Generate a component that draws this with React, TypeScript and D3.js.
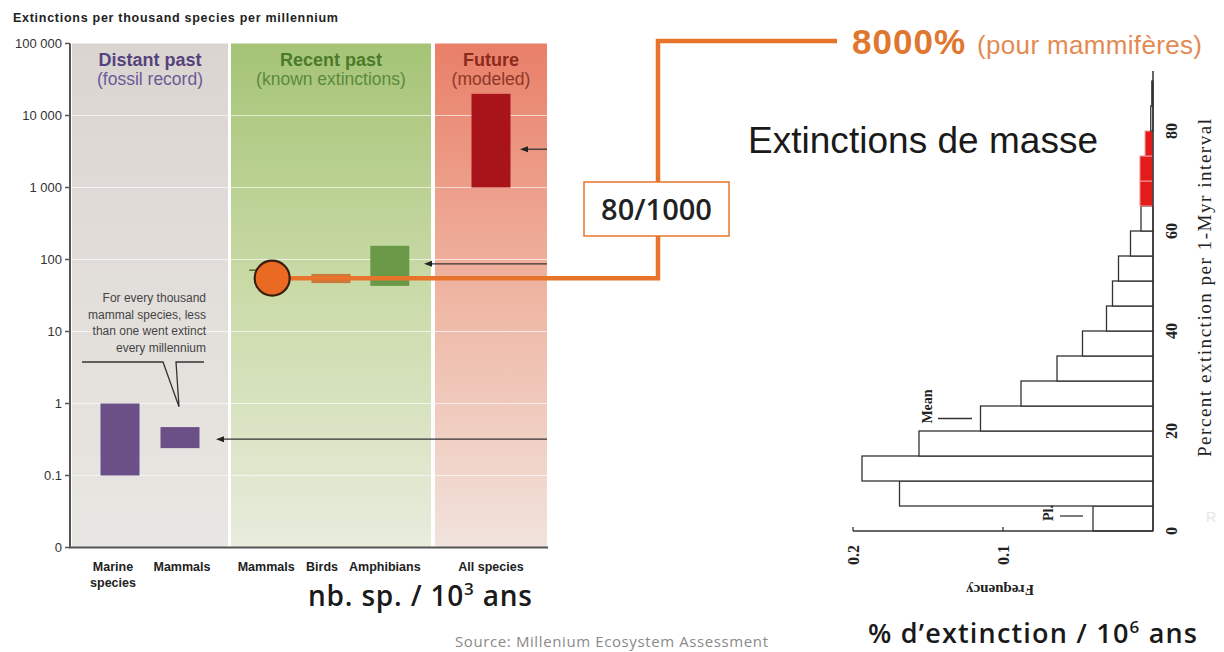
import React from 'react';
import * as d3 from 'd3';

// ---------- DATA ----------
const periods = ['Distant past', 'Recent past', 'Future'];
const periodNotes = ['(fossil record)', '(known extinctions)', '(modeled)'];
const categories = ['Marine species', 'Mammals', 'Mammals', 'Birds', 'Amphibians', 'All species'];
const categoryPeriod = [0, 0, 1, 1, 1, 2];
const rateLow = [0.1, 0.24, 55, 47, 43, 1000];
const rateHigh = [1, 0.47, 55, 63, 155, 20000];
const markKind = ['bar', 'bar', 'dot', 'bar', 'bar', 'bar'];
const yTicks = [0.01, 0.1, 1, 10, 100, 1000, 10000, 100000];
const yTickLabels = ['0', '0.1', '1', '10', '100', '1 000', '10 000', '100 000'];
const arrowRates = [3400, 87, 0.32];
const calloutLines = ['For every thousand', 'mammal species, less', 'than one went extinct', 'every millennium'];

const binStarts = [0, 5, 10, 15, 20, 25, 30, 35, 40, 45, 50, 55, 60, 65, 70, 75, 80, 85];
const binFreq = [0.040, 0.169, 0.194, 0.156, 0.115, 0.088, 0.064, 0.047, 0.031, 0.027, 0.023, 0.015, 0.008, 0.0087, 0.0087, 0.0053, 0.0015, 0.0008];
const massBins = [65, 70, 75];
const pctTicks = [0, 20, 40, 60, 80];
const freqTicks = [0.2, 0.1];
const meanPct = 22.5;
const plPct = 3;

// ---------- LAYOUT ----------
const W = 1224, H = 652;
const panelX: [number, number][] = [[72, 228], [231, 431], [435, 547]];
const panelPadding = [0.8, 0.7, 0.5];
const labelNudge = [-7, 2, -6, -9, -5, 0];
const arrowTipX = [520, 424, 216];
const barW = 39;
const orange = '#e8742c';

const gradStops = [
  [['0', '#dbd5d2'], ['1', '#e9e7e3']],
  [['0', '#a5c476'], ['0.5', '#cbdba9'], ['1', '#e8ecdd']],
  [['0', '#e97f68'], ['0.5', '#efb6a3'], ['1', '#f1e3dd']],
];
const titleColors = [['#55427c', '#6b5b97'], ['#4b7a2b', '#5b8a3c'], ['#8b2a1c', '#8e3728']];
const markColors = ['#6b5087', '#6b5087', '#ea6a24', '#c97a3b', '#6a9a48', '#a8141a'];

export default function App() {
  const y = d3.scaleLog().domain([0.01, 100000]).range([547.5, 43.5]);
  const pointScales = periods.map((p, i) =>
    d3.scalePoint<number>()
      .domain(categories.map((_, j) => j).filter((j) => categoryPeriod[j] === i))
      .range(panelX[i])
      .padding(panelPadding[i])
  );
  const cx = (j: number) => pointScales[categoryPeriod[j]](j) as number;

  const py = d3.scaleLinear().domain([0, 80]).range([531, 131]);
  const fx = d3.scaleLinear().domain([0, 0.2]).range([1153, 853]);

  const dotIdx = markKind.indexOf('dot');
  const dotX = cx(dotIdx);
  const dotY = y(rateLow[dotIdx]);

  const sans = 'Liberation Sans, Arial, sans-serif';
  const serif = 'Liberation Serif, DejaVu Serif, serif';
  const calibri = 'Open Sans, sans-serif';

  return (
    <svg width={W} height={H} style={{ position: 'absolute', left: 0, top: 0, background: '#fff' }}>
      <defs>
        {gradStops.map((stops, i) => (
          <linearGradient key={i} id={`pg${i}`} x1="0" y1="0" x2="0" y2="1">
            {stops.map(([o, c]) => <stop key={o} offset={o} stopColor={c} />)}
          </linearGradient>
        ))}
      </defs>

      {/* title */}
      <text x={13} y={22} fontFamily={sans} fontWeight="bold" fontSize={12.5} fill="#222" textLength={325}>
        Extinctions per thousand species per millennium
      </text>

      {/* panels */}
      {periods.map((p, i) => (
        <rect key={p} x={panelX[i][0]} y={y(100000)} width={panelX[i][1] - panelX[i][0]}
          height={y(0.01) - y(100000)} fill={`url(#pg${i})`} />
      ))}
      {/* white gridlines */}
      {yTicks.slice(1, -1).map((t) => (
        <line key={t} x1={72} x2={548} y1={y(t)} y2={y(t)} stroke="#fff" strokeOpacity={0.65} strokeWidth={1.2} />
      ))}

      {/* panel headers */}
      {periods.map((p, i) => {
        const mx = (panelX[i][0] + panelX[i][1]) / 2;
        return (
          <g key={p} textAnchor="middle" fontFamily={sans}>
            <text x={mx} y={66} fontSize={18} fontWeight="bold" fill={titleColors[i][0]}>{p}</text>
            <text x={mx} y={85} fontSize={17.5} fill={titleColors[i][1]}>{periodNotes[i]}</text>
          </g>
        );
      })}

      {/* y axis */}
      <line x1={70} x2={70} y1={y(100000)} y2={y(0.01)} stroke="#555" strokeWidth={2} />
      <line x1={69} x2={548} y1={y(0.01)} y2={y(0.01)} stroke="#555" strokeWidth={2} />
      {yTicks.map((t, i) => (
        <g key={t}>
          <line x1={65} x2={70} y1={y(t)} y2={y(t)} stroke="#555" strokeWidth={1.5} />
          <text x={62} y={y(t)} dy="0.35em" textAnchor="end" fontFamily={sans} fontSize={13} fill="#333">
            {yTickLabels[i]}
          </text>
        </g>
      ))}

      {/* bars */}
      {categories.map((c, j) =>
        markKind[j] === 'bar' ? (
          <rect key={j} x={cx(j) - barW / 2} y={y(rateHigh[j])} width={barW}
            height={y(rateLow[j]) - y(rateHigh[j])} fill={markColors[j]} />
        ) : null
      )}

      {/* arrows */}
      {arrowRates.map((r, i) => (
        <g key={i}>
          <line x1={547} x2={arrowTipX[i] + 6} y1={y(r)} y2={y(r)} stroke="#333" strokeWidth={1.3} />
          <polygon points={`${arrowTipX[i]},${y(r)} ${arrowTipX[i] + 8},${y(r) - 3} ${arrowTipX[i] + 8},${y(r) + 3}`} fill="#222" />
        </g>
      ))}

      {/* callout */}
      <g fontFamily={sans} fontSize={12} fill="#444" textAnchor="end">
        {calloutLines.map((l, i) => (
          <text key={i} x={206} y={302 + i * 16.5}>{l}</text>
        ))}
      </g>
      <path d={`M82,362 H163 L${cx(1) - 1},${y(0.9)} L176,362 H204`} fill="none" stroke="#333" strokeWidth={1.3} />

      {/* orange connector */}
      <line x1={dotX - 23} x2={dotX - 11} y1={dotY - 8} y2={dotY - 8} stroke="#4a6a30" strokeWidth={1.5} />
      <path d={`M${dotX},${dotY} H658 V41 H837`} fill="none" stroke={orange} strokeWidth={4.5} />
      <circle cx={dotX} cy={dotY} r={17.5} fill={markColors[dotIdx]} stroke="#3b1d0e" strokeWidth={2.2} />

      {/* category labels */}
      {categories.map((c, j) => {
        const words = c === 'Marine species' ? ['Marine', 'species'] : [c];
        return (
          <text key={j} textAnchor="middle" fontFamily={sans} fontWeight="bold" fontSize={12.5} fill="#222">
            {words.map((w, k) => (
              <tspan key={k} x={cx(j) + labelNudge[j]} y={571 + k * 16}>{w}</tspan>
            ))}
          </text>
        );
      })}

      {/* 80/1000 box */}
      <rect x={584} y={182} width={145} height={54} fill="#fff" stroke={orange} strokeWidth={1.5} />
      <text x={656.5} y={220} textAnchor="middle" fontFamily={calibri} fontWeight={600} fontSize={29} fill="#222">80/1000</text>

      {/* 8000% */}
      <text x={852} y={54} fontFamily={sans} fontWeight="bold" fontSize={35} fill="#e0772e" textLength={113}>8000%</text>
      <text x={977} y={54} fontFamily={sans} fontSize={26} fill="#e38a52" textLength={225}>(pour mammifères)</text>

      <text x={748} y={153} fontFamily={sans} fontSize={37} fill="#1a1a1a" textLength={350}>Extinctions de masse</text>

      {/* bottom texts */}
      <text x={308} y={606} fontFamily={calibri} fontWeight={600} fontSize={28} fill="#1a1a1a" textLength={224}>
        nb. sp. / 10<tspan dy={-11} fontSize={17}>3</tspan><tspan dy={11}> ans</tspan>
      </text>
      <text x={455} y={647} fontFamily={calibri} fontSize={15} fill="#8a8a8a" textLength={313}>
        Source:  Millenium Ecosystem Assessment
      </text>
      <text x={868} y={643} fontFamily={calibri} fontWeight={600} fontSize={27} fill="#1a1a1a" textLength={329}>
        % d’extinction / 10<tspan dy={-10} fontSize={17}>6</tspan><tspan dy={10}> ans</tspan>
      </text>

      {/* histogram */}
      {binStarts.map((b, i) => {
        const mass = massBins.includes(b);
        return (
          <rect key={b} x={fx(binFreq[i])} y={py(b + 5)} width={fx(0) - fx(binFreq[i])} height={py(b) - py(b + 5)}
            fill={mass ? '#e41b1b' : '#fff'} stroke={mass ? '#f29a9a' : '#333'} strokeWidth={mass ? 1 : 1.3} />
        );
      })}
      <line x1={fx(0)} x2={fx(0)} y1={py(0)} y2={py(92)} stroke="#333" strokeWidth={1.5} />
      <line x1={fx(0.2)} x2={fx(0)} y1={py(0)} y2={py(0)} stroke="#333" strokeWidth={1.3} />
      {freqTicks.map((f) => (
        <g key={f}>
          <line x1={fx(f)} x2={fx(f)} y1={py(0)} y2={py(0) - 4} stroke="#333" strokeWidth={1.3} />
          <text transform={`translate(${fx(f)},${555}) rotate(-90)`} textAnchor="middle" dy="0.35em"
            fontFamily={serif} fontWeight="bold" fontSize={16} fill="#222">{f}</text>
        </g>
      ))}
      {pctTicks.map((p) => (
        <text key={p} transform={`translate(1171,${py(p)}) rotate(-90)`} textAnchor="middle" dy="0.35em"
          fontFamily={serif} fontWeight="bold" fontSize={16} fill="#222">{p}</text>
      ))}
      <text transform={`translate(1204,288) rotate(-90)`} textAnchor="middle" dy="0.35em"
        fontFamily={serif} fontSize={19} fill="#222" textLength={338}>Percent extinction per 1-Myr interval</text>
      <text transform={`translate(1000,590) rotate(180)`} textAnchor="middle" dy="0.35em"
        fontFamily={serif} fontWeight="bold" fontSize={15} fill="#222">Frequency</text>

      {/* Mean & Pl. markers */}
      <line x1={938} x2={972} y1={py(meanPct)} y2={py(meanPct)} stroke="#333" strokeWidth={1.3} />
      <text transform={`translate(927,${py(meanPct) - 12}) rotate(-90)`} textAnchor="middle" dy="0.35em"
        fontFamily={serif} fontWeight="bold" fontSize={14} fill="#222">Mean</text>
      <line x1={1060} x2={1083} y1={py(plPct)} y2={py(plPct)} stroke="#333" strokeWidth={1.3} />
      <text transform={`translate(1048,${py(plPct) - 3}) rotate(-90)`} textAnchor="middle" dy="0.35em"
        fontFamily={serif} fontWeight="bold" fontSize={14} fill="#222">Pl.</text>

      <text x={1206} y={522} fontFamily={sans} fontSize={14} fill="#e6e6e6">R</text>
    </svg>
  );
}
